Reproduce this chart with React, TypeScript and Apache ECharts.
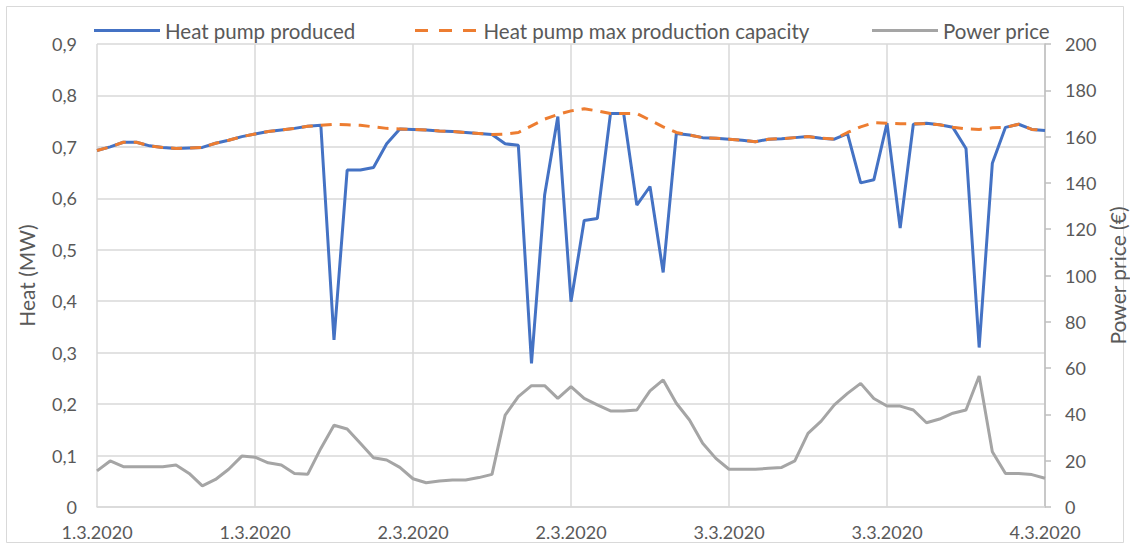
import React, { useEffect, useRef } from "react";
import * as echarts from "echarts";

const tickDates = ["1.3.2020", "1.3.2020", "2.3.2020", "2.3.2020", "3.3.2020", "3.3.2020", "4.3.2020"];

const hours: string[] = [];
for (let i = 0; i <= 72; i++) {
  const day = 1 + Math.floor(i / 24);
  const h = i % 24;
  hours.push(`${day}.3.2020 ${String(h).padStart(2, "0")}:00`);
}

const produced = [
  0.693, 0.700, 0.709, 0.709, 0.702, 0.699, 0.697, 0.698, 0.699, 0.707, 0.713, 0.720,
  0.725, 0.730, 0.733, 0.736, 0.740, 0.742, 0.325, 0.655, 0.655, 0.660, 0.706, 0.735,
  0.734, 0.733, 0.731, 0.730, 0.728, 0.726, 0.724, 0.706, 0.703, 0.279, 0.607, 0.759,
  0.399, 0.557, 0.561, 0.765, 0.765, 0.587, 0.623, 0.456, 0.726, 0.723, 0.718, 0.717,
  0.715, 0.713, 0.710, 0.715, 0.716, 0.718, 0.720, 0.717, 0.715, 0.726, 0.630, 0.636,
  0.746, 0.542, 0.744, 0.746, 0.743, 0.738, 0.697, 0.310, 0.668, 0.738, 0.744, 0.734,
  0.732,
];

const capacity = [
  0.693, 0.700, 0.709, 0.709, 0.702, 0.699, 0.697, 0.698, 0.699, 0.707, 0.713, 0.720,
  0.725, 0.730, 0.733, 0.736, 0.740, 0.742, 0.744, 0.743, 0.742, 0.739, 0.736, 0.735,
  0.734, 0.733, 0.731, 0.730, 0.728, 0.726, 0.724, 0.725, 0.728, 0.741, 0.754, 0.763,
  0.770, 0.774, 0.770, 0.765, 0.765, 0.765, 0.752, 0.739, 0.728, 0.723, 0.718, 0.717,
  0.715, 0.713, 0.710, 0.715, 0.716, 0.718, 0.720, 0.717, 0.715, 0.728, 0.739, 0.747,
  0.746, 0.745, 0.745, 0.745, 0.743, 0.738, 0.735, 0.734, 0.737, 0.738, 0.744, 0.734,
  0.732,
];

const price = [
  15.6, 19.9, 17.4, 17.4, 17.4, 17.4, 18.1, 14.5, 9.1, 11.9, 16.3, 22.0,
  21.5, 19.1, 18.1, 14.5, 14.1, 25.3, 35.3, 33.7, 27.5, 21.3, 20.3, 17.1,
  12.2, 10.5, 11.2, 11.7, 11.7, 12.7, 14.1, 39.7, 47.7, 52.4, 52.4, 46.9,
  52.0, 46.9, 44.1, 41.5, 41.5, 41.9, 50.2, 54.9, 44.8, 37.6, 27.5, 21.0,
  16.3, 16.3, 16.3, 16.7, 17.1, 19.9, 31.8, 37.1, 44.1, 49.1, 53.4, 46.9,
  43.6, 43.6, 41.9, 36.4, 38.0, 40.5, 41.9, 56.6, 23.9, 14.5, 14.5, 14.0,
  12.4,
];

const FONT = "Lato";
const TXT = "#595959";
const GRID = "#d9d9d9";

const SOLID_ICON = "path://M0,0h66v3h-66z";
const DASH_ICON = "path://M0,0h13v3h-13z M24,0h13v3h-13z M48,0h13v3h-13z";

export default function App() {
  const ref = useRef<HTMLDivElement>(null);
  useEffect(() => {
    if (!ref.current) return;
    const chart = echarts.init(ref.current, undefined, { renderer: "svg" });
    const legendText = { color: TXT, fontSize: 20.5, fontFamily: FONT };
    chart.setOption({
      animation: false,
      backgroundColor: "#ffffff",
      textStyle: { fontFamily: FONT },
      graphic: [
        {
          type: "rect",
          shape: { x: 6.5, y: 6.5, width: 1117, height: 536 },
          style: { fill: "none", stroke: GRID, lineWidth: 1 },
          silent: true,
        },
      ],
      grid: { left: 97, right: 85, top: 44, bottom: 42, containLabel: false, outerBoundsMode: "none" },
      legend: [
        {
          data: [{ name: "Heat pump produced", icon: SOLID_ICON }],
          left: 89, top: 15, itemWidth: 66, itemHeight: 3, itemGap: 6,
          textStyle: legendText,
        },
        {
          data: [{ name: "Heat pump max production capacity", icon: DASH_ICON }],
          left: 410, top: 15, itemWidth: 66, itemHeight: 3,
          textStyle: legendText,
        },
        {
          data: [{ name: "Power price", icon: SOLID_ICON }],
          left: 867, top: 15, itemWidth: 66, itemHeight: 3,
          textStyle: legendText,
        },
      ],
      xAxis: {
        type: "category",
        data: hours,
        boundaryGap: false,
        axisLine: { show: true, lineStyle: { color: GRID, width: 1.5 } },
        axisTick: { show: false },
        splitLine: { show: true, interval: 11, lineStyle: { color: GRID, width: 1.5 } },
        axisLabel: {
          interval: 11,
          margin: 16,
          color: TXT,
          fontSize: 18,
          fontFamily: FONT,
          formatter: (v: string, idx: number) => tickDates[Math.round(idx / 12)] ?? v.split(" ")[0],
        },
      },
      yAxis: [
        {
          type: "value",
          min: 0,
          max: 0.9,
          interval: 0.1,
          name: "Heat (MW)",
          nameLocation: "middle",
          nameGap: 60,
          nameTextStyle: { color: TXT, fontSize: 21, fontFamily: FONT },
          axisLine: { show: false },
          axisTick: { show: false },
          splitLine: { show: true, lineStyle: { color: GRID, width: 1.5 } },
          axisLabel: {
            margin: 20,
            color: TXT,
            fontSize: 18,
            fontFamily: FONT,
            formatter: (v: number) => (v === 0 ? "0" : v.toFixed(1).replace(".", ",")),
          },
        },
        {
          type: "value",
          min: 0,
          max: 200,
          interval: 20,
          name: "Power price (€)",
          nameLocation: "middle",
          nameGap: 60,
          nameRotate: 90,
          nameTextStyle: { color: TXT, fontSize: 21, fontFamily: FONT },
          axisLine: { show: true, lineStyle: { color: "#bfbfbf", width: 1.5 } },
          axisTick: { show: true, length: 6, lineStyle: { color: "#bfbfbf", width: 1.5 } },
          splitLine: { show: false },
          axisLabel: { margin: 20, color: TXT, fontSize: 18, fontFamily: FONT },
        },
      ],
      series: [
        {
          name: "Power price",
          type: "line",
          yAxisIndex: 1,
          data: price,
          showSymbol: false,
          symbol: "none",
          lineStyle: { color: "#a5a5a5", width: 3 },
          itemStyle: { color: "#a5a5a5" },
        },
        {
          name: "Heat pump produced",
          type: "line",
          data: produced,
          showSymbol: false,
          symbol: "none",
          lineStyle: { color: "#4472c4", width: 3 },
          itemStyle: { color: "#4472c4" },
        },
        {
          name: "Heat pump max production capacity",
          type: "line",
          data: capacity,
          showSymbol: false,
          symbol: "none",
          lineStyle: { color: "#ed7d31", width: 3, type: [11, 8] },
          itemStyle: { color: "#ed7d31" },
        },
      ],
    });
    return () => chart.dispose();
  }, []);
  return (
    <div
      ref={ref}
      style={{ position: "absolute", left: 0, top: 0, width: 1130, height: 549 }}
    />
  );
}
